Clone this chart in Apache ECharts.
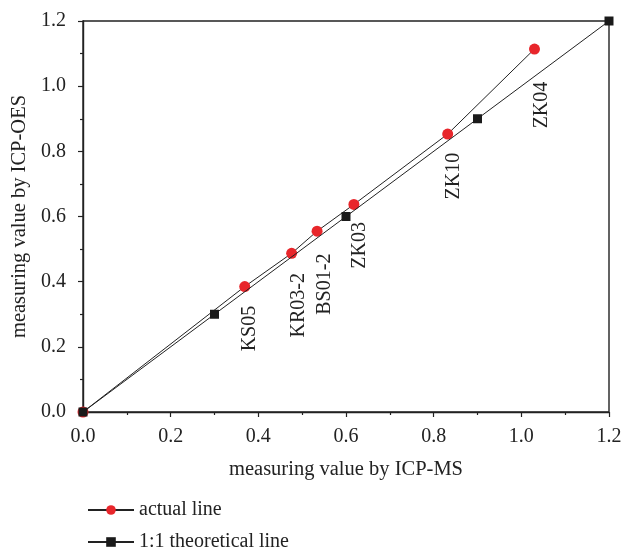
<!DOCTYPE html>
<html><head><meta charset="utf-8">
<script src="https://cdn.jsdelivr.net/npm/echarts@6/dist/echarts.min.js"></script>
<style>html,body{margin:0;padding:0;background:#fff}#c{width:624px;height:548px}</style>
</head><body><div id="c"></div>
<script>
const sampleNames = ['', 'KS05', 'KR03-2', 'BS01-2', 'ZK03', 'ZK10', 'ZK04'];
const icpMs = [0, 0.369, 0.476, 0.534, 0.618, 0.832, 1.030];
const icpOes = [0, 0.385, 0.487, 0.555, 0.637, 0.853, 1.114];
const theoX = [0, 0.3, 0.6, 0.9, 1.2];
const theoY = [0, 0.3, 0.6, 0.9, 1.2];
const tickLabels = ['0.0', '0.2', '0.4', '0.6', '0.8', '1.0', '1.2'];
// screen offsets of rotated labels (dx, dy)
const labelShift = [[0,0],[5,42],[7,52],[8,53],[6,41],[6,42],[7,56]];

const font = 'Liberation Serif';
const txt = '#222';
const chart = echarts.init(document.getElementById('c'));
const fmt = v => tickLabels[Math.round(v / 0.2)] || v.toFixed(1);
const axisCommon = {
  min: 0, max: 1.2, interval: 0.2,
  axisLine: { show: true, lineStyle: { color: '#222', width: 1.4 } },
  axisTick: { show: true, inside: false, length: 5, lineStyle: { color: '#222', width: 1.2 } },
  minorTick: { show: true, splitNumber: 2, length: 3, lineStyle: { color: '#222', width: 1.2 } },
  splitLine: { show: false },
  axisLabel: { color: txt, fontFamily: font, fontSize: 20, formatter: fmt },
  nameTextStyle: { color: txt, fontFamily: font, fontSize: 20.5 },
  nameLocation: 'middle'
};
chart.setOption({
  animation: false,
  grid: { left: 83, right: 15, top: 21, bottom: 136, show: true, borderColor: '#222', borderWidth: 1.4,
    backgroundColor: 'transparent', containLabel: false, outerBoundsMode: 'none' },
  xAxis: Object.assign({}, axisCommon, { type: 'value', name: 'measuring value by ICP-MS', nameGap: 47,
    axisLabel: Object.assign({}, axisCommon.axisLabel, { margin: 15 }) }),
  yAxis: Object.assign({}, axisCommon, { type: 'value', name: 'measuring value by ICP-OES', nameGap: 53,
    axisLabel: Object.assign({}, axisCommon.axisLabel, { margin: 17 }) }),
  legend: {
    orient: 'vertical', left: 82, top: 495, height: 60, itemGap: 12, itemWidth: 46, itemHeight: 12,
    textStyle: { color: txt, fontFamily: font, fontSize: 20 },
    data: ['actual line', '1:1 theoretical line']
  },
  series: [
    {
      name: 'actual line', type: 'line', symbol: 'circle', symbolSize: 11,
      itemStyle: { color: '#e8262b' },
      lineStyle: { color: '#222', width: 1 },
      data: icpMs.map((x, i) => ({
        value: [x, icpOes[i]],
        label: {
          show: sampleNames[i] !== '', formatter: sampleNames[i], rotate: 90,
          position: 'inside', align: 'center', verticalAlign: 'middle',
          offset: [-labelShift[i][1], labelShift[i][0]],
          color: txt, fontFamily: font, fontSize: 20
        }
      })),
      z: 2
    },
    {
      name: '1:1 theoretical line', type: 'line', symbol: 'rect', symbolSize: 9,
      itemStyle: { color: '#1a1a1a' },
      lineStyle: { color: '#222', width: 1 },
      data: theoX.map((x, i) => [x, theoY[i]]),
      z: 3
    }
  ]
});
</script></body></html>
